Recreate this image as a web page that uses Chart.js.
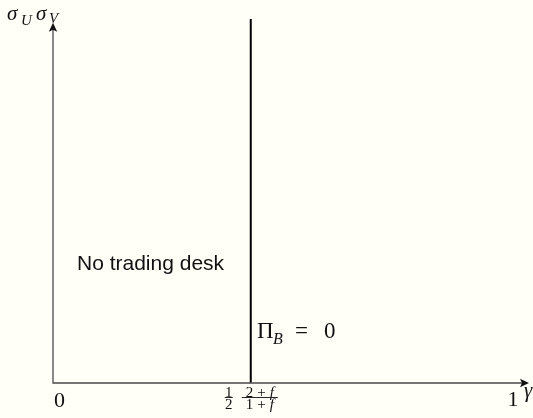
<!DOCTYPE html>
<html>
<head>
<meta charset="utf-8">
<script src="https://cdn.jsdelivr.net/npm/chart.js@4"></script>
<style>
  html, body { margin: 0; padding: 0; background: #fffff8; }
  #wrap { width: 533px; height: 418px; }
</style>
</head>
<body>
<div id="wrap"><canvas id="regions" width="533" height="418"></canvas></div>
<script>
// Boundary between regions: gamma = 1/2 (2+f)/(1+f), drawn schematically
const boundaryX = [0.43, 0.43];
const boundaryY = [0, 1];

// axis extents and tick values on the gamma axis
const xRange = [0, 1.035];
const yRange = [0, 1];
const yArrowTop = 0.99;
const gammaTicks = [0, 0.43, 1];

const BG = '#fffff8';
const SERIF = '"Liberation Serif", "DejaVu Serif", serif';
const SANS = '"Liberation Sans", "DejaVu Sans", sans-serif';

// draws a sequence of text pieces with their own fonts / vertical shifts
function drawRuns(ctx, runs, x, y, align) {
    let total = 0;
    runs.forEach(r => { ctx.font = r.font; r.w = ctx.measureText(r.t).width + (r.gap || 0); total += r.w; });
    let cx = align === 'center' ? x - total / 2 : x;
    ctx.textAlign = 'left';
    ctx.textBaseline = 'alphabetic';
    runs.forEach(r => {
        ctx.font = r.font;
        ctx.fillText(r.t, cx, y + (r.dy || 0));
        cx += r.w;
    });
    return total;
}

function drawFrac(ctx, num, den, cx, barY, barW) {
    drawRuns(ctx, num, cx, barY - 1, 'center');
    drawRuns(ctx, den, cx, barY + 11.5, 'center');
    ctx.fillRect(cx - barW / 2, barY - 0.4, barW, 0.9);
}

function arrowHead(ctx, tx, ty, dir) {
    // stealth-like head pointing along dir ('up' or 'right')
    ctx.save();
    ctx.translate(tx, ty);
    if (dir === 'up') ctx.rotate(-Math.PI / 2);
    ctx.beginPath();
    ctx.moveTo(0, 0);
    ctx.lineTo(-9, -4.2);
    ctx.lineTo(-7, 0);
    ctx.lineTo(-9, 4.2);
    ctx.closePath();
    ctx.fill();
    ctx.restore();
}

const axesPlugin = {
    id: 'axesPlugin',
    beforeDraw(chart) {
        const ctx = chart.ctx;
        ctx.save();
        ctx.fillStyle = BG;
        ctx.fillRect(0, 0, chart.width, chart.height);
        ctx.restore();
    },
    afterDatasetsDraw(chart) {
        const ctx = chart.ctx;
        const xs = chart.scales.x, ys = chart.scales.y;
        const x0 = xs.getPixelForValue(0), y0 = ys.getPixelForValue(0);
        const xEnd = xs.getPixelForValue(xRange[1]);
        const yEnd = ys.getPixelForValue(yArrowTop);

        ctx.save();
        ctx.strokeStyle = '#4a4a4a';
        ctx.fillStyle = '#111';
        ctx.lineWidth = 1.3;
        ctx.beginPath();
        ctx.moveTo(x0, yEnd + 4);
        ctx.lineTo(x0, y0);
        ctx.lineTo(xEnd - 4, y0);
        ctx.stroke();
        arrowHead(ctx, xEnd, y0, 'right');
        arrowHead(ctx, x0, yEnd, 'up');

        ctx.fillStyle = '#111';
        ctx.textBaseline = 'alphabetic';
        ctx.textAlign = 'left';
        const it = 'italic 21px ' + SERIF;
        const itSub = 'italic 15px ' + SERIF;
        const rm = '22px ' + SERIF;

        // y-axis label sigma_U sigma_V
        ctx.font = it;
        ctx.fillText('σ', 7, 20);
        ctx.fillText('σ', 36, 20);
        ctx.font = itSub;
        ctx.fillText('U', 21, 25);
        ctx.fillText('V', 49, 23);

        // gamma axis tick labels
        ctx.font = rm;
        ctx.fillText('0', xs.getPixelForValue(gammaTicks[0]) + 1, 407);
        ctx.textAlign = 'center';
        ctx.fillText('1', xs.getPixelForValue(gammaTicks[2]), 406);
        ctx.font = it;
        ctx.textAlign = 'left';
        ctx.fillText('γ', xEnd - 5, 397);

        const xb = xs.getPixelForValue(gammaTicks[1]);
        const fr = '15px ' + SERIF, frIt = 'italic 15px ' + SERIF;
        drawFrac(ctx, [{ t: '1', font: fr }], [{ t: '2', font: fr }], xb - 22, 397.5, 8);
        drawFrac(ctx,
            [{ t: '2', font: fr, gap: 4 }, { t: '+', font: fr, gap: 4 }, { t: 'f', font: frIt }],
            [{ t: '1', font: fr, gap: 4 }, { t: '+', font: fr, gap: 4 }, { t: 'f', font: frIt }],
            xb + 9, 397.5, 36);

        // region labels
        ctx.font = '21px ' + SANS;
        ctx.textAlign = 'left';
        ctx.fillText('No trading desk', 77, 270);

        ctx.font = '23px ' + SERIF;
        ctx.fillText('Π', 257, 338);
        ctx.fillText('=', 295, 338);
        ctx.fillText('0', 324, 338);
        ctx.font = 'italic 16px ' + SERIF;
        ctx.fillText('B', 273, 344);
        ctx.restore();
    }
};

new Chart(document.getElementById('regions'), {
    type: 'scatter',
    data: {
        datasets: [{
            data: boundaryX.map((x, i) => ({ x: x, y: boundaryY[i] })),
            showLine: true,
            borderColor: '#000',
            borderWidth: 2,
            pointRadius: 0,
            clip: false
        }]
    },
    options: {
        responsive: false,
        animation: false,
        layout: { padding: { left: 53, right: 4, top: 19, bottom: 35 } },
        plugins: { legend: { display: false }, tooltip: { enabled: false } },
        scales: {
            x: { type: 'linear', min: xRange[0], max: xRange[1], display: false },
            y: { type: 'linear', min: yRange[0], max: yRange[1], display: false }
        }
    },
    plugins: [axesPlugin]
});
</script>
</body>
</html>
